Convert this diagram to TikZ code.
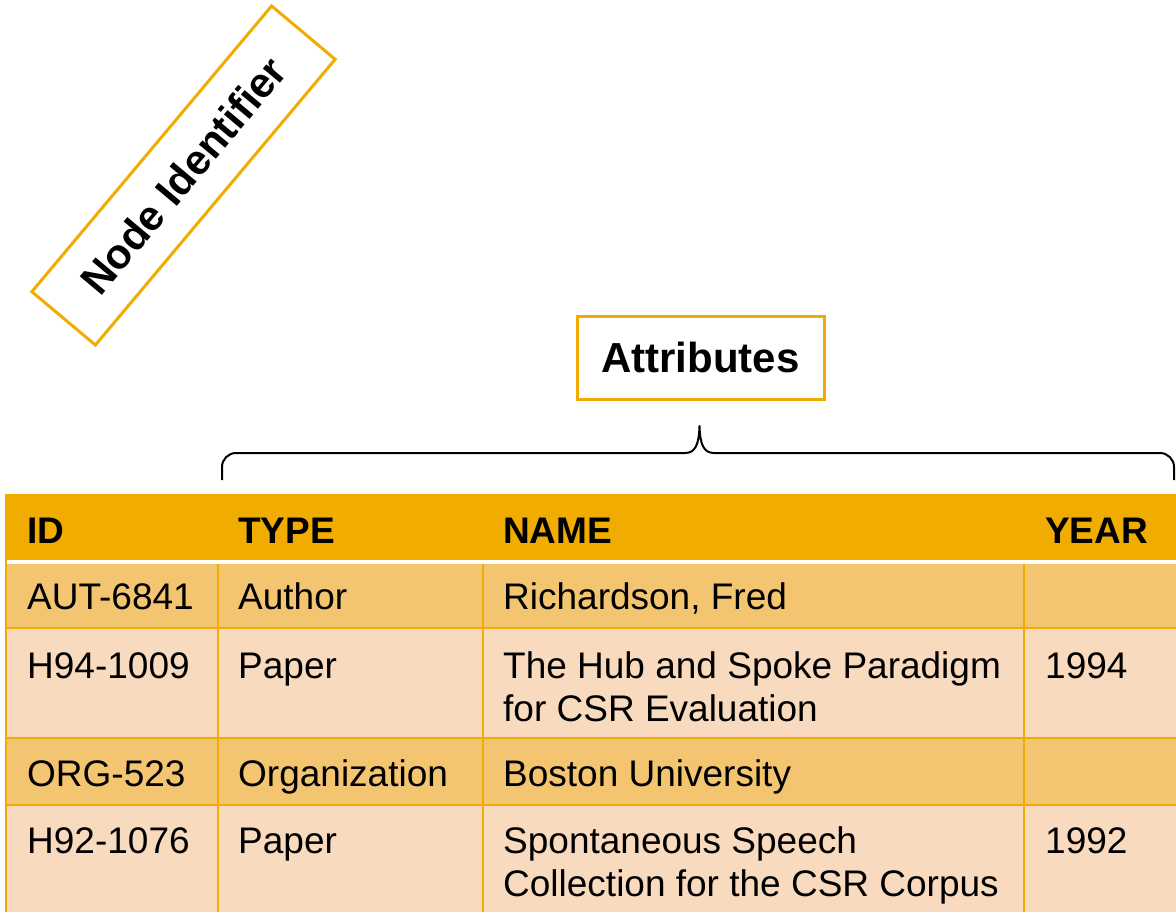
\documentclass[tikz,border=0pt]{standalone}
\usepackage{fontspec}
\setmainfont{Liberation Sans}
\definecolor{hdr}{RGB}{240,172,0}
\definecolor{rowA}{RGB}{243,197,112}
\definecolor{rowB}{RGB}{248,219,190}
\definecolor{grid}{RGB}{240,172,0}

\begin{document}
\begin{tikzpicture}[x=1pt,y=-1pt,
  cell/.style={anchor=base west,inner sep=0pt,font=\fontsize{37}{43.5}\selectfont,align=left},
  head/.style={cell,font=\fontsize{37}{43.5}\selectfont\bfseries},
  labelbox/.style={draw=grid,line width=3pt,font=\fontsize{42}{48}\selectfont\bfseries,
    inner sep=0pt,minimum height=83pt},
  gridline/.style={grid,line width=2pt}]
\useasboundingbox (0,0) rectangle (1176,911);
\clip (0,0) rectangle (1176,911);

% table background: header band and alternating rows
\fill[hdr]   (6,494) rectangle (1200,560);
\fill[white] (6,560) rectangle (1200,564);
\fill[rowA]  (6,564) rectangle (1200,628);
\fill[rowB]  (6,628) rectangle (1200,738);
\fill[rowA]  (6,738) rectangle (1200,805);
\fill[rowB]  (6,805) rectangle (1200,920);

% cell borders
\draw[gridline] (6,494) -- (6,920);
\foreach \y in {628,738,805} \draw[gridline] (6,\y) -- (1200,\y);
\foreach \x in {218,483,1024} \draw[gridline] (\x,564) -- (\x,920);

% header
\node[head] (hID)   at (27,543)   {ID};
\node[head] (hType) at (238,543)  {TYPE};
\node[head] (hName) at (503,543)  {NAME};
\node[head] (hYear) at (1045,543) {YEAR};

% rows (two-line cells are placed by the baseline of their last line)
\node[cell] (id1)   at (27,609)  {AUT-6841};
\node[cell] (ty1)   at (238,609) {Author};
\node[cell] (nm1)   at (503,609) {Richardson, Fred};

\node[cell] (id2)   at (27,678)  {H94-1009};
\node[cell] (ty2)   at (238,678) {Paper};
\node[cell] (nm2)   at (503,721.5) {The Hub and Spoke Paradigm\\for CSR Evaluation};
\node[cell] (yr2)   at (1045,678) {1994};

\node[cell] (id3)   at (27,786)  {ORG-523};
\node[cell] (ty3)   at (238,786) {Organization};
\node[cell] (nm3)   at (503,786) {Boston University};

\node[cell] (id4)   at (27,853)  {H92-1076};
\node[cell] (ty4)   at (238,853) {Paper};
\node[cell] (nm4)   at (503,896.5) {Spontaneous Speech\\Collection for the CSR Corpus};
\node[cell] (yr4)   at (1045,853) {1992};

% labels
\node[labelbox,minimum width=247pt] (attr) at (700.5,357.5) {Attributes};
\node[labelbox,minimum width=373pt,rotate=50] (nid) at (183.5,175.5) {Node Identifier};

% brace over the attribute columns
\draw[line width=2pt,line join=round]
  (222,480) -- (222,467) arc[start angle=180,end angle=270,radius=14] -- (685,453)
  .. controls (695,453) and (699,445) .. (699.5,426)
  .. controls (700,445) and (704,453) .. (714,453)
  -- (1160,453) arc[start angle=-90,end angle=0,radius=14] -- (1174,480);
\end{tikzpicture}
\end{document}
